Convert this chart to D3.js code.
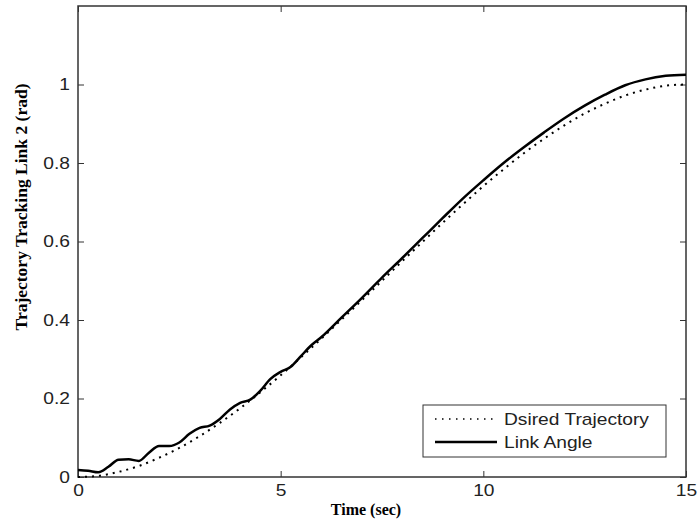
<!DOCTYPE html>
<html>
<head>
<meta charset="utf-8">
<script src="https://cdn.jsdelivr.net/npm/d3@7"></script>
<style>
  body { margin: 0; background: #fff; }
</style>
</head>
<body>
<div id="chart"></div>
<script>
// values
var desiredTime = [0, 0.5, 1, 1.5, 2, 2.5, 3, 3.5, 4, 4.5, 5, 5.5, 6, 6.5, 7, 7.5,
                   8, 8.5, 9, 9.5, 10, 10.5, 11, 11.5, 12, 12.5, 13, 13.5, 14, 14.5, 15];
var desiredAngle = [0, 0.003, 0.013, 0.028, 0.049, 0.074, 0.104, 0.138, 0.175, 0.216, 0.259,
                    0.305, 0.352, 0.401, 0.450, 0.500, 0.550, 0.599, 0.648, 0.695, 0.741,
                    0.784, 0.825, 0.862, 0.896, 0.926, 0.951, 0.972, 0.987, 0.997, 1.000];

var linkTime = [0, 0.25, 0.5, 0.75, 1, 1.25, 1.5, 1.75, 2, 2.25, 2.5, 2.75, 3, 3.25, 3.5,
                3.75, 4, 4.25, 4.5, 4.75, 5, 5.25, 5.5, 5.75, 6, 6.5, 7, 7.5, 8, 8.5, 9,
                9.5, 10, 10.5, 11, 11.5, 12, 12.5, 13, 13.5, 14, 14.5, 15];
var linkAngle = [0.018, 0.016, 0.012, 0.026, 0.044, 0.045, 0.041, 0.062, 0.079, 0.079, 0.088,
                 0.110, 0.125, 0.131, 0.148, 0.172, 0.189, 0.197, 0.220, 0.250, 0.268, 0.281,
                 0.308, 0.335, 0.356, 0.406, 0.456, 0.508, 0.558, 0.609, 0.660, 0.710, 0.756,
                 0.800, 0.840, 0.878, 0.914, 0.946, 0.974, 0.998, 1.013, 1.022, 1.025];

var xTicks = [0, 5, 10, 15];
var yTicks = [0, 0.2, 0.4, 0.6, 0.8, 1];
var legendLabels = ["Dsired Trajectory", "Link Angle"];

var svgWidth = 697;
var svgHeight = 529;
var margin = { top: 6, right: 11, bottom: 52, left: 78 };
var width = svgWidth - margin.left - margin.right;
var height = svgHeight - margin.top - margin.bottom;
var stretch = 1.2;   // the picture's sans text is a bit wide

var svg = d3.select("#chart").append("svg")
    .attr("width", svgWidth)
    .attr("height", svgHeight);

var g = svg.append("g")
    .attr("transform", `translate(${margin.left},${margin.top})`);

var x = d3.scaleLinear().domain([0, 15]).range([0, width]);
var y = d3.scaleLinear().domain([0, 1.2]).range([height, 0]);

function widen(sel) {
  sel.attr("transform", function() {
    var tx = +this.getAttribute("x") || 0;
    return `translate(${tx},0) scale(${stretch},1) translate(${-tx},0)`;
  });
}

function styleAxis(a) {
  a.select(".domain").remove();
  a.selectAll("line").attr("stroke", "#333").attr("stroke-width", 1);
  a.selectAll("text").attr("fill", "#222")
    .style("font-family", "'Liberation Sans', Arial, sans-serif")
    .style("font-size", "16px");
}

var xAxis = g.append("g")
    .attr("transform", `translate(0,${height})`)
    .call(d3.axisBottom(x).tickValues(xTicks).tickFormat(d3.format("d"))
      .tickSize(-6).tickSizeOuter(0).tickPadding(8));
styleAxis(xAxis);
widen(xAxis.selectAll("text"));

var yAxis = g.append("g")
    .call(d3.axisLeft(y).tickValues(yTicks).tickFormat(d => d === 0 || d === 1 ? d : d3.format(".1f")(d))
      .tickSize(-6).tickSizeOuter(0).tickPadding(8));
styleAxis(yAxis);
widen(yAxis.selectAll("text"));

var topAxis = g.append("g")
    .call(d3.axisTop(x).tickValues(xTicks).tickFormat("").tickSize(-6).tickSizeOuter(0));
styleAxis(topAxis);

var rightAxis = g.append("g")
    .attr("transform", `translate(${width},0)`)
    .call(d3.axisRight(y).tickValues(yTicks).tickFormat("").tickSize(-6).tickSizeOuter(0));
styleAxis(rightAxis);

g.append("rect")
    .attr("width", width)
    .attr("height", height)
    .attr("fill", "none")
    .attr("stroke", "#333")
    .attr("stroke-width", 1.5);

var desired = desiredTime.map((t, i) => [t, desiredAngle[i]]);
var link = linkTime.map((t, i) => [t, linkAngle[i]]);

var line = d3.line()
    .x(d => x(d[0]))
    .y(d => y(d[1]))
    .curve(d3.curveMonotoneX);

g.append("path")
    .datum(desired)
    .attr("fill", "none")
    .attr("stroke", "#000")
    .attr("stroke-width", 2)
    .attr("stroke-dasharray", "2,5")
    .attr("d", line);

g.append("path")
    .datum(link)
    .attr("fill", "none")
    .attr("stroke", "#000")
    .attr("stroke-width", 2.5)
    .attr("d", line);

// legend
var legend = g.append("g").attr("transform", "translate(345,399)");
legend.append("rect")
    .attr("width", 243)
    .attr("height", 52)
    .attr("fill", "#fff")
    .attr("stroke", "#333")
    .attr("stroke-width", 1);

var rows = legend.selectAll(".row")
    .data(legendLabels)
    .enter().append("g")
    .attr("class", "row")
    .attr("transform", (d, i) => `translate(0,${14 + i * 23})`);

rows.append("line")
    .attr("x1", 12).attr("x2", 74)
    .attr("stroke", "#000")
    .attr("stroke-width", (d, i) => i === 0 ? 1.5 : 2.5)
    .attr("stroke-dasharray", (d, i) => i === 0 ? "1.5,5.5" : null);

rows.append("text")
    .attr("x", 81)
    .attr("y", 6)
    .attr("fill", "#222")
    .style("font-family", "'Liberation Sans', Arial, sans-serif")
    .style("font-size", "16px")
    .text(d => d)
    .call(widen);

// axis titles
svg.append("text")
    .attr("x", 366)
    .attr("y", 515)
    .attr("text-anchor", "middle")
    .style("font-family", "'Liberation Serif', 'Times New Roman', serif")
    .style("font-weight", "bold")
    .style("font-size", "16px")
    .text("Time (sec)");

svg.append("text")
    .attr("transform", "translate(27,207) rotate(-90)")
    .attr("text-anchor", "middle")
    .style("font-family", "'Liberation Serif', 'Times New Roman', serif")
    .style("font-weight", "bold")
    .style("font-size", "17.5px")
    .text("Trajectory Tracking Link 2 (rad)");
</script>
</body>
</html>
